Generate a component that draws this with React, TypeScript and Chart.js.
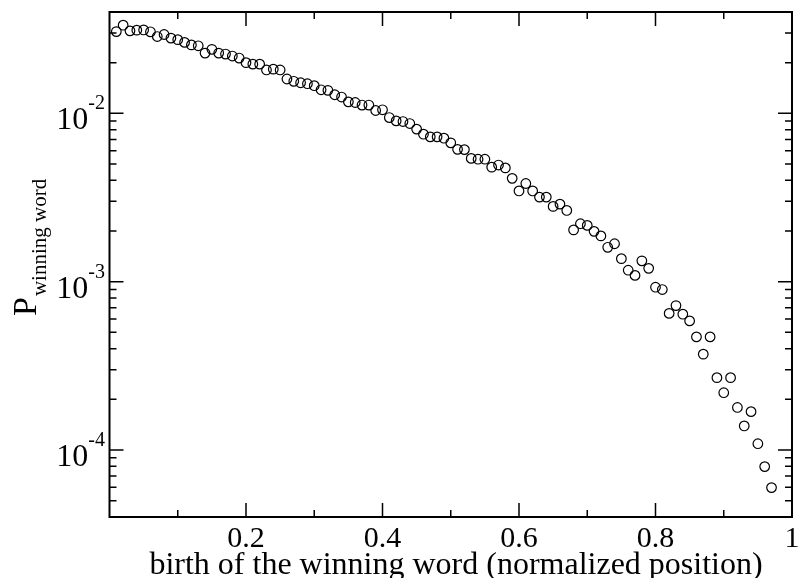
import React, { useEffect, useRef } from "react";
import { Chart, registerables } from "chart.js";

Chart.register(...registerables);

// ---- data ----
const birthPositions = [
  0.01, 0.02, 0.03, 0.04, 0.05, 0.06, 0.07, 0.08, 0.09, 0.1,
  0.11, 0.12, 0.13, 0.14, 0.15, 0.16, 0.17, 0.18, 0.19, 0.2,
  0.21, 0.22, 0.23, 0.24, 0.25, 0.26, 0.27, 0.28, 0.29, 0.3,
  0.31, 0.32, 0.33, 0.34, 0.35, 0.36, 0.37, 0.38, 0.39, 0.4,
  0.41, 0.42, 0.43, 0.44, 0.45, 0.46, 0.47, 0.48, 0.49, 0.5,
  0.51, 0.52, 0.53, 0.54, 0.55, 0.56, 0.57, 0.58, 0.59, 0.6,
  0.61, 0.62, 0.63, 0.64, 0.65, 0.66, 0.67, 0.68, 0.69, 0.7,
  0.71, 0.72, 0.73, 0.74, 0.75, 0.76, 0.77, 0.78, 0.79, 0.8,
  0.81, 0.82, 0.83, 0.84, 0.85, 0.86, 0.87, 0.88, 0.89, 0.9,
  0.91, 0.92, 0.93, 0.94, 0.95, 0.96, 0.97,
];

const winningProbability = [
  0.0306, 0.0334, 0.0309, 0.0312, 0.0313, 0.0305, 0.0286, 0.0294, 0.028, 0.0274,
  0.0264, 0.0255, 0.0252, 0.0228, 0.024, 0.0228, 0.0225, 0.0219, 0.0213, 0.02,
  0.0196, 0.0196, 0.0181, 0.0183, 0.0181, 0.016, 0.0155, 0.0152, 0.015, 0.0146,
  0.0138, 0.0137, 0.0129, 0.0125, 0.0117, 0.0116, 0.0112, 0.0112, 0.0104, 0.0105,
  0.00944, 0.00902, 0.00894, 0.0087, 0.00806, 0.00752, 0.00725, 0.00725, 0.00712, 0.00668,
  0.00611, 0.00609, 0.0054, 0.00534, 0.00534, 0.00479, 0.00493, 0.00474, 0.00411, 0.00346,
  0.00383, 0.00346, 0.00318, 0.00318, 0.0028, 0.00289, 0.00265, 0.00203, 0.00221, 0.00216,
  0.00199, 0.00187, 0.0016, 0.00168, 0.00137, 0.00117, 0.00109, 0.00133, 0.0012, 0.000927,
  0.000898, 0.000648, 0.000721, 0.000641, 0.000585, 0.00047, 0.000371, 0.00047, 0.000269, 0.000219,
  0.000269, 0.000179, 0.000139, 0.000169, 0.000109, 0.0000797, 0.0000598,
];

const xMajorTicks = [0.2, 0.4, 0.6, 0.8, 1];
const xTickLabels = ["0.2", "0.4", "0.6", "0.8", "1"];
const xMinorTicks = [0.1, 0.3, 0.5, 0.7, 0.9];

const yMajorTicks = [1e-4, 1e-3, 1e-2];
const yTickBases = ["10", "10", "10"];
const yTickExponents = ["-4", "-3", "-2"];
const yMinorTicks = [
  5e-5, 6e-5, 7e-5, 8e-5, 9e-5,
  2e-4, 3e-4, 4e-4, 5e-4, 6e-4, 7e-4, 8e-4, 9e-4,
  2e-3, 3e-3, 4e-3, 5e-3, 6e-3, 7e-3, 8e-3, 9e-3,
  2e-2, 3e-2,
];

const xTitle = "birth of the winning word (normalized position)";
const yTitleMain = "P";
const yTitleSub = "winning word";

const X_MIN = 0;
const X_MAX = 1;
const Y_MIN = 4e-5;
const Y_MAX = 4e-2;

const SERIF = '"Liberation Serif", "Times New Roman", "DejaVu Serif", serif';

const framePlugin = {
  id: "xmgrFrame",
  afterDraw(chart: any) {
    const { ctx, chartArea } = chart;
    const xs = chart.scales.x;
    const ys = chart.scales.y;
    const { left, right, top, bottom } = chartArea;
    const MAJ = 14;
    const MIN = 7;

    ctx.save();
    ctx.strokeStyle = "#000";
    ctx.fillStyle = "#000";
    ctx.lineWidth = 2;
    ctx.strokeRect(left, top, right - left, bottom - top);

    ctx.lineWidth = 1.5;
    ctx.beginPath();
    const xTick = (v: number, len: number) => {
      const px = xs.getPixelForValue(v);
      ctx.moveTo(px, bottom);
      ctx.lineTo(px, bottom - len);
      ctx.moveTo(px, top);
      ctx.lineTo(px, top + len);
    };
    xMajorTicks.forEach((v) => xTick(v, MAJ));
    xMinorTicks.forEach((v) => xTick(v, MIN));
    const yTick = (v: number, len: number) => {
      const py = ys.getPixelForValue(v);
      ctx.moveTo(left, py);
      ctx.lineTo(left + len, py);
      ctx.moveTo(right, py);
      ctx.lineTo(right - len, py);
    };
    yMajorTicks.forEach((v) => yTick(v, MAJ));
    yMinorTicks.forEach((v) => yTick(v, MIN));
    ctx.stroke();

    // x tick labels
    ctx.font = `30px ${SERIF}`;
    ctx.textAlign = "center";
    ctx.textBaseline = "alphabetic";
    xMajorTicks.forEach((v, i) => {
      const px = xs.getPixelForValue(v);
      ctx.fillText(xTickLabels[i], px, 547);
    });

    // x title
    ctx.font = `32px ${SERIF}`;
    ctx.fillText(xTitle, 456, 574);

    // y tick labels with superscript exponent
    yMajorTicks.forEach((v, i) => {
      const py = ys.getPixelForValue(v);
      ctx.font = `20px ${SERIF}`;
      ctx.textAlign = "right";
      const expW = ctx.measureText(yTickExponents[i]).width;
      const expRight = 105;
      ctx.fillText(yTickExponents[i], expRight, py - 4);
      ctx.font = `32px ${SERIF}`;
      ctx.fillText(yTickBases[i], expRight - expW, py + 16);
    });

    // y title: P with subscript, rotated
    ctx.save();
    ctx.translate(36, 316);
    ctx.rotate(-Math.PI / 2);
    ctx.textAlign = "left";
    ctx.font = `34px ${SERIF}`;
    ctx.fillText(yTitleMain, 0, 0);
    const pW = ctx.measureText(yTitleMain).width;
    ctx.font = `21px ${SERIF}`;
    ctx.fillText(yTitleSub, pW + 1, 10);
    ctx.restore();

    ctx.restore();
  },
};

export default function App() {
  const canvasRef = useRef<HTMLCanvasElement | null>(null);

  useEffect(() => {
    document.body.style.margin = "0";
    const canvas = canvasRef.current;
    if (!canvas) return;
    const chart = new Chart(canvas, {
      type: "scatter",
      data: {
        datasets: [
          {
            label: "P winning word",
            data: birthPositions.map((x, i) => ({ x, y: winningProbability[i] })),
            pointRadius: 4.8,
            pointHoverRadius: 4.8,
            borderWidth: 1.2,
            borderColor: "#000",
            backgroundColor: "rgba(0,0,0,0)",
            showLine: false,
          },
        ],
      },
      options: {
        animation: false,
        responsive: false,
        devicePixelRatio: 1,
        layout: { padding: { left: 109.5, right: 3.5, top: 12, bottom: 61 } },
        plugins: {
          legend: { display: false },
          tooltip: { enabled: false },
        },
        scales: {
          x: { type: "linear", min: X_MIN, max: X_MAX, display: false },
          y: { type: "logarithmic", min: Y_MIN, max: Y_MAX, display: false },
        },
      },
      plugins: [framePlugin],
    });
    return () => chart.destroy();
  }, []);

  return (
    <div style={{ position: "fixed", left: 0, top: 0, width: 798, height: 578, background: "#fff" }}>
      <canvas ref={canvasRef} width={798} height={578} style={{ width: 798, height: 578, display: "block" }} />
    </div>
  );
}
